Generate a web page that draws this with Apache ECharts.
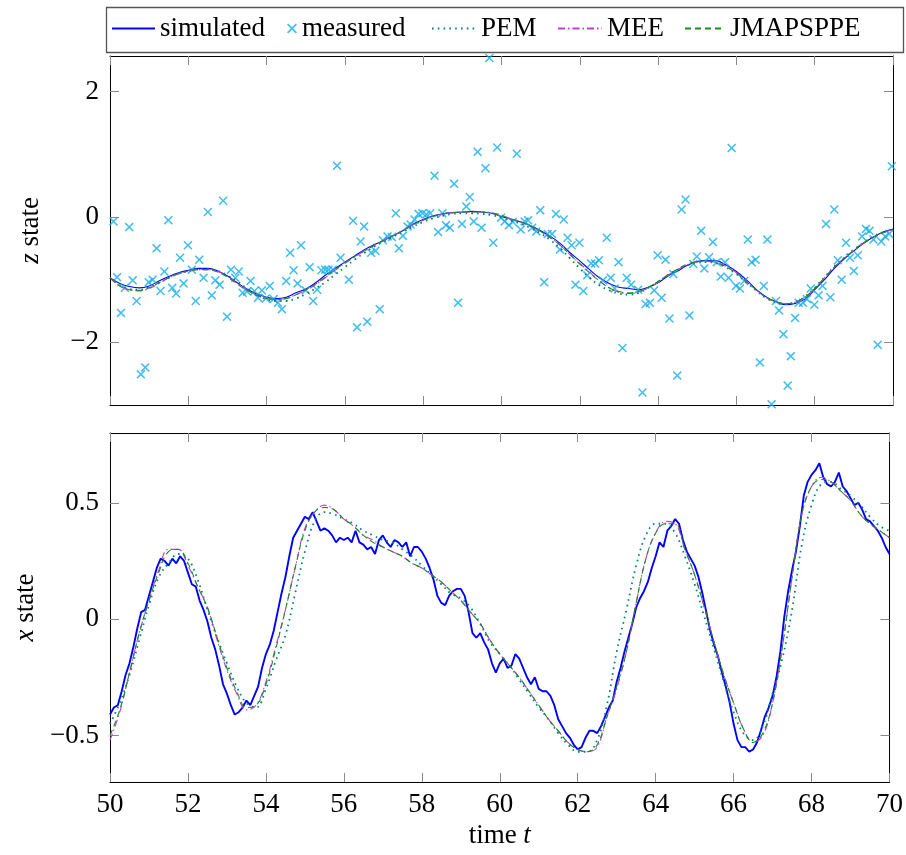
<!DOCTYPE html>
<html><head><meta charset="utf-8">
<script src="https://cdn.jsdelivr.net/npm/echarts@6/dist/echarts.min.js"></script>
<style>html,body{margin:0;padding:0;background:#fff}#c{width:906px;height:855px}</style>
</head><body><div id="c"></div>
<script>
// ---------- data ----------
const timeTicks = [50, 52, 54, 56, 58, 60, 62, 64, 66, 68, 70];
const zTicks = [-2, 0, 2];
const xTicks = [-0.5, 0, 0.5];

// measured z (time, value)
const measT = [
50.09,50.18,50.28,50.38,50.49,50.58,50.68,50.79,50.90,50.99,
51.09,51.19,51.29,51.39,51.49,51.59,51.69,51.79,51.88,51.99,
52.09,52.19,52.28,52.39,52.50,52.60,52.69,52.80,52.89,52.99,
53.09,53.20,53.29,53.39,53.50,53.59,53.69,53.78,53.88,53.98,
54.08,54.18,54.29,54.39,54.50,54.60,54.69,54.79,54.88,55.00,
55.10,55.19,55.29,55.40,55.50,55.58,55.69,55.80,55.89,56.10,
56.21,56.31,56.40,56.49,56.57,56.67,56.78,56.89,56.97,57.09,
57.20,57.30,57.38,57.48,57.60,57.68,57.78,57.88,57.98,58.08,
58.18,58.29,58.38,58.49,58.58,58.68,58.79,58.89,58.99,59.10,
59.19,59.29,59.39,59.49,59.59,59.69,59.79,59.89,59.99,60.08,
60.19,60.29,60.39,60.49,60.59,60.68,60.78,60.89,60.99,61.09,
61.18,61.29,61.39,61.49,61.59,61.69,61.79,61.89,61.99,62.09,
62.19,62.29,62.39,62.49,62.59,62.69,62.79,62.89,62.99,63.09,
63.20,63.31,63.49,63.60,63.68,63.79,63.90,63.99,64.09,64.19,
64.29,64.39,64.49,64.60,64.70,64.80,64.90,64.99,65.10,65.18,
65.30,65.40,65.50,65.60,65.71,65.80,65.88,65.99,66.09,66.20,
66.29,66.39,66.49,66.60,66.70,66.79,66.90,67.01,67.09,67.20,
67.31,67.39,67.50,67.59,67.70,67.80,67.90,67.99,68.10,68.20,
68.29,68.40,68.50,68.59,68.69,68.80,68.90,69.00,69.10,69.21,
69.31,69.40,69.50,69.61,69.70,69.80,69.90,69.97];
const measZ = [
-0.07,-0.96,-1.53,-1.13,-0.16,-1.01,-1.34,-2.51,-2.40,-1.04,
-1.00,-0.50,-1.18,-0.87,-0.05,-1.13,-1.22,-0.65,-1.06,-0.45,
-0.84,-1.34,-0.68,-0.97,0.08,-1.25,-1.01,-1.08,0.26,-1.59,
-0.84,-0.97,-0.87,-1.21,-1.19,-1.02,-1.18,-1.29,-1.17,-1.30,
-1.10,-1.31,-1.37,-1.47,-1.02,-0.57,-0.85,-1.06,-0.45,-1.17,
-0.80,-1.34,-1.16,-0.85,-0.84,-0.84,-0.84,0.82,-0.65,-1.00,
-0.06,-1.76,-0.39,-0.15,-1.67,-0.57,-0.54,-1.47,-0.37,-0.31,
-0.32,0.06,-0.50,-0.30,-0.15,-0.12,-0.04,0.05,0.06,0.04,
0.06,0.66,-0.24,0.06,-0.13,-0.17,0.53,-1.37,-0.11,0.17,
0.32,-0.07,1.04,-0.17,0.78,2.54,-0.41,1.11,-0.01,-0.07,
-0.13,-0.08,1.01,-0.20,-0.07,-0.05,-0.17,-0.23,0.11,-1.04,
-0.27,-0.27,0.05,-0.52,-0.04,-0.33,-0.45,-1.08,-0.41,-1.18,
-0.93,-0.74,-0.74,-0.69,-1.01,-0.33,-0.97,-1.14,-0.72,-2.09,
-0.97,-1.08,-1.16,-2.80,-1.39,-1.37,-1.17,-0.61,-1.29,-0.68,
-1.62,-0.91,-2.53,0.12,0.28,-1.57,-0.75,-0.63,-0.22,-0.82,
-0.64,-0.40,-0.72,-0.95,-0.72,-0.97,1.10,-1.10,-1.14,-1.02,
-0.36,-0.72,-0.68,-2.32,-1.10,-0.36,-2.99,-1.34,-1.49,-1.87,
-2.69,-2.22,-1.61,-1.37,-1.37,-1.31,-1.14,-1.40,-1.25,-1.10,
-0.11,-1.28,0.12,-0.69,-1.00,-0.41,-0.65,-0.86,-0.61,-0.31,
-0.19,-0.22,-0.36,-2.04,-0.39,-0.31,-0.27,0.81];

// z curves, every 0.25 from t=50 to t=70
const zSim = [
-0.97,-1.06,-1.11,-1.13, -1.10,-1.02,-0.95,-0.89, -0.85,-0.82,-0.82,-0.86, -0.94,-1.05,-1.15,-1.23,
-1.28,-1.30,-1.28,-1.21, -1.15,-1.05,-0.93,-0.82, -0.72,-0.62,-0.52,-0.44, -0.37,-0.29,-0.21,-0.11,
-0.04,0.02,0.05,0.07, 0.08,0.09,0.08,0.06, 0.01,-0.04,-0.08,-0.14, -0.22,-0.31,-0.42,-0.57,
-0.70,-0.84,-0.97,-1.06, -1.12,-1.14,-1.16,-1.12, -1.05,-0.94,-0.86,-0.77, -0.71,-0.69,-0.70,-0.77,
-0.87,-1.00,-1.15,-1.27, -1.35,-1.40,-1.38,-1.31, -1.16,-1.00,-0.82,-0.67, -0.54,-0.42,-0.32,-0.24, -0.19];
const zPEM = [
-0.97,-1.09,-1.15,-1.16, -1.12,-1.05,-0.97,-0.90, -0.86,-0.83,-0.83,-0.86, -0.93,-1.03,-1.14,-1.24,
-1.31,-1.34,-1.34,-1.30, -1.23,-1.14,-1.04,-0.92, -0.80,-0.68,-0.57,-0.47, -0.39,-0.31,-0.23,-0.15,
-0.08,-0.02,0.02,0.05, 0.06,0.06,0.05,0.03, -0.01,-0.06,-0.11,-0.18, -0.26,-0.37,-0.50,-0.66,
-0.82,-0.97,-1.09,-1.17, -1.22,-1.24,-1.21,-1.13, -1.03,-0.93,-0.84,-0.77, -0.73,-0.72,-0.74,-0.81,
-0.91,-1.04,-1.17,-1.29, -1.36,-1.39,-1.36,-1.27, -1.13,-0.96,-0.79,-0.65, -0.52,-0.41,-0.31,-0.24, -0.20];
const zMEE = [
-0.97,-1.10,-1.16,-1.18, -1.14,-1.06,-0.97,-0.91, -0.87,-0.84,-0.84,-0.87, -0.95,-1.06,-1.16,-1.25,
-1.30,-1.32,-1.30,-1.24, -1.17,-1.08,-0.97,-0.85, -0.74,-0.64,-0.54,-0.45, -0.37,-0.29,-0.21,-0.12,
-0.05,0.01,0.05,0.07, 0.08,0.08,0.08,0.07, 0.03,-0.03,-0.08,-0.15, -0.23,-0.33,-0.45,-0.60,
-0.74,-0.88,-1.02,-1.13, -1.20,-1.22,-1.20,-1.13, -1.04,-0.93,-0.84,-0.76, -0.72,-0.71,-0.73,-0.79,
-0.89,-1.02,-1.16,-1.28, -1.35,-1.38,-1.36,-1.28, -1.14,-0.97,-0.80,-0.66, -0.53,-0.41,-0.32,-0.25, -0.20];
const zJMAP = [
-0.97,-1.10,-1.16,-1.17, -1.13,-1.05,-0.97,-0.90, -0.86,-0.84,-0.84,-0.88, -0.96,-1.07,-1.17,-1.25,
-1.30,-1.32,-1.30,-1.24, -1.16,-1.07,-0.96,-0.84, -0.73,-0.63,-0.54,-0.45, -0.37,-0.29,-0.21,-0.12,
-0.05,0.01,0.05,0.07, 0.08,0.08,0.08,0.06, 0.02,-0.03,-0.08,-0.15, -0.23,-0.33,-0.45,-0.60,
-0.75,-0.89,-1.02,-1.13, -1.19,-1.21,-1.19,-1.12, -1.03,-0.92,-0.83,-0.75, -0.71,-0.70,-0.73,-0.80,
-0.90,-1.03,-1.16,-1.28, -1.35,-1.38,-1.36,-1.28, -1.14,-0.97,-0.80,-0.66, -0.53,-0.41,-0.32,-0.25, -0.20];

// simulated x, every 0.1 from t=50 to t=70
const xSim = [
-0.41,-0.38,-0.37,-0.31,-0.24,-0.19,-0.12,-0.04,0.03,0.04,
0.10,0.16,0.22,0.26,0.25,0.23,0.26,0.24,0.27,0.25,
0.20,0.15,0.14,0.08,0.04,-0.01,-0.08,-0.13,-0.20,-0.28,
-0.32,-0.37,-0.41,-0.40,-0.38,-0.35,-0.37,-0.33,-0.29,-0.21,
-0.15,-0.11,-0.05,0.03,0.11,0.18,0.27,0.35,0.38,0.41,
0.44,0.43,0.46,0.42,0.38,0.39,0.38,0.36,0.33,0.35,
0.34,0.35,0.33,0.38,0.33,0.32,0.30,0.31,0.28,0.34,
0.36,0.33,0.31,0.34,0.33,0.31,0.33,0.27,0.31,0.31,
0.29,0.26,0.22,0.17,0.10,0.07,0.06,0.10,0.12,0.13,
0.13,0.10,0.03,-0.06,-0.08,-0.06,-0.10,-0.13,-0.19,-0.23,
-0.19,-0.17,-0.21,-0.20,-0.15,-0.17,-0.21,-0.25,-0.28,-0.25,
-0.30,-0.31,-0.31,-0.33,-0.37,-0.43,-0.46,-0.49,-0.51,-0.54,
-0.56,-0.55,-0.51,-0.48,-0.48,-0.49,-0.46,-0.42,-0.38,-0.35,
-0.27,-0.21,-0.14,-0.08,-0.02,0.05,0.09,0.12,0.16,0.22,
0.27,0.33,0.31,0.38,0.40,0.43,0.41,0.34,0.29,0.26,
0.23,0.18,0.11,0.03,-0.05,-0.11,-0.16,-0.23,-0.29,-0.36,
-0.45,-0.52,-0.55,-0.55,-0.57,-0.56,-0.53,-0.48,-0.42,-0.38,
-0.33,-0.25,-0.14,0.01,0.12,0.21,0.29,0.40,0.53,0.59,
0.62,0.64,0.67,0.61,0.58,0.57,0.59,0.63,0.57,0.55,
0.52,0.49,0.50,0.47,0.43,0.42,0.40,0.38,0.35,0.31,
0.28];

// x estimates, every 0.25 from t=50 to t=70
const xPEM = [
-0.45,-0.36,-0.24,-0.09, 0.06,0.18,0.24,0.28, 0.26,0.17,0.04,-0.08, -0.19,-0.29,-0.36,-0.38,
-0.30,-0.18,-0.07,0.11, 0.29,0.42,0.46,0.45, 0.43,0.41,0.38,0.36, 0.34,0.33,0.30,0.27,
0.23,0.19,0.15,0.11, 0.09,0.05,-0.02,-0.10, -0.15,-0.20,-0.26,-0.32, -0.38,-0.43,-0.49,-0.54,
-0.57,-0.57,-0.52,-0.37, -0.14,0.04,0.23,0.36, 0.41,0.41,0.37,0.27, 0.15,0.01,-0.13,-0.27,
-0.40,-0.49,-0.52,-0.46, -0.32,-0.17,0.04,0.32, 0.49,0.58,0.59,0.56, 0.53,0.49,0.44,0.40, 0.38];
const xMEE = [
-0.52,-0.40,-0.23,-0.06, 0.08,0.21,0.30,0.30, 0.23,0.14,0.05,-0.09, -0.22,-0.32,-0.39,-0.37,
-0.27,-0.12,0.04,0.22, 0.39,0.46,0.49,0.47, 0.43,0.40,0.36,0.34, 0.31,0.29,0.27,0.24,
0.22,0.19,0.16,0.12, 0.08,0.03,-0.02,-0.09, -0.15,-0.20,-0.25,-0.31, -0.37,-0.43,-0.48,-0.53,
-0.56,-0.57,-0.55,-0.42, -0.30,-0.14,0.07,0.26, 0.37,0.42,0.41,0.30, 0.19,0.05,-0.10,-0.24,
-0.36,-0.47,-0.53,-0.50, -0.36,-0.12,0.18,0.45, 0.57,0.61,0.59,0.55, 0.51,0.45,0.41,0.38, 0.35];
const xJMAP = [
-0.50,-0.39,-0.23,-0.06, 0.08,0.20,0.29,0.30, 0.24,0.14,0.05,-0.08, -0.21,-0.31,-0.38,-0.37,
-0.28,-0.13,0.04,0.22, 0.38,0.46,0.48,0.47, 0.43,0.40,0.36,0.33, 0.31,0.29,0.27,0.24,
0.22,0.19,0.16,0.12, 0.08,0.03,-0.02,-0.09, -0.15,-0.20,-0.25,-0.31, -0.37,-0.43,-0.48,-0.53,
-0.56,-0.57,-0.54,-0.42, -0.29,-0.14,0.07,0.26, 0.37,0.41,0.41,0.30, 0.19,0.05,-0.10,-0.24,
-0.36,-0.47,-0.53,-0.49, -0.36,-0.12,0.18,0.45, 0.57,0.60,0.59,0.55, 0.51,0.45,0.41,0.38, 0.35];

// ---------- build ----------
const coarseT = []; for (let i = 0; i < zSim.length; i++) coarseT.push(50 + i * 0.25);
const fineT = []; for (let i = 0; i < xSim.length; i++) fineT.push(+(50 + i * 0.1).toFixed(1));
const zip = (ts, vs) => vs.map((v, i) => [ts[i], v]);

const FONT = 'Liberation Serif';
const fmt = v => (v < 0 ? '\u2212' + Math.abs(v) : String(v));
const frame = { show: true, onZero: false, lineStyle: { color: '#000', width: 1 } };
const tickIn = { show: true, inside: true, length: 9, lineStyle: { color: '#8a8a8a', width: 1 } };

function xAx(grid, pos, labels, name) {
  return {
    type: 'value', gridIndex: grid, position: pos, min: 50, max: 70, interval: 2,
    axisLine: frame, axisTick: tickIn, splitLine: { show: false },
    axisLabel: { show: labels, fontFamily: FONT, fontSize: 27, color: '#000', margin: 9 },
    name: name || '', nameLocation: 'middle', nameGap: 40,
    nameTextStyle: { fontFamily: FONT, fontSize: 27, color: '#000',
      rich: { i: { fontStyle: 'italic', fontFamily: FONT, fontSize: 27, color: '#000' } } }
  };
}
function yAx(grid, pos, min, max, ticks, labels, name) {
  return {
    type: 'value', gridIndex: grid, position: pos, min: min, max: max,
    axisLine: frame,
    axisTick: Object.assign({}, tickIn, { customValues: ticks }),
    splitLine: { show: false },
    axisLabel: { show: labels, customValues: ticks, formatter: fmt, fontFamily: FONT, fontSize: 27, color: '#000', margin: 11 },
    name: name || '', nameLocation: 'middle', nameGap: 66, nameRotate: 90,
    nameTextStyle: { fontFamily: FONT, fontSize: 27, color: '#000',
      rich: { i: { fontStyle: 'italic', fontFamily: FONT, fontSize: 27, color: '#000' } } }
  };
}

const crossPath = 'path://M0,1.2 L1.2,0 L5,3.8 L8.8,0 L10,1.2 L6.2,5 L10,8.8 L8.8,10 L5,6.2 L1.2,10 L0,8.8 L3.8,5 Z';
const C = { sim: '#0000ff', meas: '#12aeea', pem: '#008080', mee: '#bf3fd0', jmap: '#1f8a1f' };
const ls = (color, type, w) => ({ color: color, type: type, width: w });

const series = [
  { name: 'simulated', type: 'line', xAxisIndex: 0, yAxisIndex: 0, data: zip(coarseT, zSim), smooth: 0.4,
    symbol: 'none', lineStyle: ls(C.sim, 'solid', 1.1), itemStyle: { color: C.sim }, z: 2 },
  { name: 'measured', type: 'scatter', xAxisIndex: 0, yAxisIndex: 0, data: zip(measT, measZ),
    symbol: crossPath, symbolSize: 9, itemStyle: { color: C.meas }, z: 3 },
  { name: 'PEM', type: 'line', xAxisIndex: 0, yAxisIndex: 0, data: zip(coarseT, zPEM), smooth: 0.4,
    symbol: 'none', lineStyle: ls(C.pem, [1.6, 4.2], 1.8), itemStyle: { color: C.pem }, z: 4 },
  { name: 'MEE', type: 'line', xAxisIndex: 0, yAxisIndex: 0, data: zip(coarseT, zMEE), smooth: 0.4,
    symbol: 'none', lineStyle: ls(C.mee, [7, 3, 1.5, 3], 1.1), itemStyle: { color: C.mee }, z: 4 },
  { name: 'JMAPSPPE', type: 'line', xAxisIndex: 0, yAxisIndex: 0, data: zip(coarseT, zJMAP), smooth: 0.4,
    symbol: 'none', lineStyle: ls(C.jmap, [6, 4], 1.1), itemStyle: { color: C.jmap }, z: 4 },

  { name: 'simulated', type: 'line', xAxisIndex: 2, yAxisIndex: 2, data: zip(fineT, xSim),
    symbol: 'none', lineStyle: ls(C.sim, 'solid', 1.9), itemStyle: { color: C.sim }, z: 2 },
  { name: 'PEM', type: 'line', xAxisIndex: 2, yAxisIndex: 2, data: zip(coarseT, xPEM), smooth: 0.4,
    symbol: 'none', lineStyle: ls(C.pem, [1.6, 4.2], 1.8), itemStyle: { color: C.pem }, z: 4 },
  { name: 'MEE', type: 'line', xAxisIndex: 2, yAxisIndex: 2, data: zip(coarseT, xMEE), smooth: 0.4,
    symbol: 'none', lineStyle: ls(C.mee, [7, 3, 1.5, 3], 1.1), itemStyle: { color: C.mee }, z: 4 },
  { name: 'JMAPSPPE', type: 'line', xAxisIndex: 2, yAxisIndex: 2, data: zip(coarseT, xJMAP), smooth: 0.4,
    symbol: 'none', lineStyle: ls(C.jmap, [6, 4], 1.1), itemStyle: { color: C.jmap }, z: 4 }
];

const legText = { fontFamily: FONT, fontSize: 27, color: '#000' };
function leg(name, left, w, h, hideSymbol) {
  const l = { data: [name], left: left, top: 15, padding: 0, itemWidth: w, itemHeight: h, itemGap: 0,
    textStyle: legText, selectedMode: false, inactiveColor: '#000' };
  if (hideSymbol) l.itemStyle = { opacity: 0 };
  return l;
}

const option = {
  animation: false,
  backgroundColor: '#fff',
  graphic: [{ type: 'rect', left: 104, top: 5, shape: { width: 797, height: 45 },
    style: { fill: 'none', stroke: '#555', lineWidth: 1.3 }, z: 0 }],
  legend: [
    leg('simulated', 111, 43, 14, true),
    leg('measured', 287, 10, 10, false),
    leg('PEM', 431, 44, 14, true),
    leg('MEE', 557, 44, 14, true),
    leg('JMAPSPPE', 684, 40, 14, true)
  ],
  grid: [
    { left: 110, right: 13, top: 56, height: 349 },
    { left: 110, right: 13, top: 433, height: 349 }
  ],
  xAxis: [
    xAx(0, 'bottom', false),
    xAx(0, 'top', false),
    xAx(1, 'bottom', true, 'time {i|t}'),
    xAx(1, 'top', false)
  ],
  yAxis: [
    yAx(0, 'left', -3, 2.57, zTicks, true, '{i|z} state'),
    yAx(0, 'right', -3, 2.57, zTicks, false),
    yAx(1, 'left', -0.7, 0.8, xTicks, true, '{i|x} state'),
    yAx(1, 'right', -0.7, 0.8, xTicks, false)
  ],
  series: series
};

const chart = echarts.init(document.getElementById('c'), null, { renderer: 'canvas' });
chart.setOption(option);
</script>
</body></html>
